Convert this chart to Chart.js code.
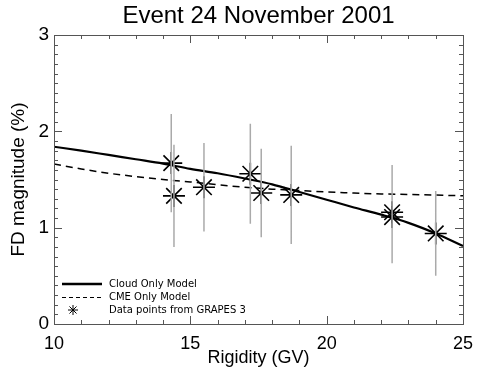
<!DOCTYPE html>
<html>
<head>
<meta charset="utf-8">
<script src="https://cdn.jsdelivr.net/npm/chart.js@4"></script>
<style>
  html, body { margin: 0; padding: 0; background: #fff; }
  #wrap { width: 477px; height: 375px; }
</style>
</head>
<body>
<div id="wrap"><canvas id="fdChart" width="477" height="375"></canvas></div>
<script>
// model curves, sampled every 1 GV
const modelRigidity = [10, 11, 12, 13, 14, 15, 16, 17, 18, 19, 20, 21, 22, 23, 24, 25];
const cloudOnly = [1.84, 1.80, 1.755, 1.71, 1.665, 1.61, 1.565, 1.51, 1.45, 1.37, 1.29, 1.21, 1.135, 1.05, 0.94, 0.81];
const cmeOnly = [1.66, 1.61, 1.565, 1.53, 1.50, 1.475, 1.445, 1.42, 1.40, 1.385, 1.37, 1.36, 1.35, 1.345, 1.338, 1.332];

// GRAPES-3 data points
const grapesRigidity = [14.3, 14.4, 15.5, 17.2, 17.6, 18.7, 22.4, 22.4, 24.0];
const grapesFD = [1.67, 1.33, 1.42, 1.56, 1.36, 1.34, 1.16, 1.11, 0.94];
const grapesErr = [0.51, 0.53, 0.46, 0.52, 0.46, 0.51, 0.49, 0.48, 0.44];

const xTicks = [10, 15, 20, 25];
const yTicks = [0, 1, 2, 3];

const legendLabels = ["Cloud Only Model", "CME Only Model", "Data points from GRAPES 3"];
const titleText = "Event 24 November 2001";

const axisColor = "#555";

function toXY(xs, ys) {
  return xs.map((x, i) => ({ x: x, y: ys[i] }));
}

// IDL style box with inward ticks on all four sides
const boxPlugin = {
  id: "box",
  afterDraw(chart) {
    const { ctx, chartArea: a, scales } = chart;
    const xs = scales.x, ys = scales.y;
    ctx.save();
    ctx.strokeStyle = axisColor;
    ctx.lineWidth = 1;
    ctx.strokeRect(a.left + 0.5, a.top + 0.5, a.right - a.left, a.bottom - a.top);
    ctx.beginPath();
    for (let v = xs.min; v <= xs.max; v += 1) {
      const px = Math.round(xs.getPixelForValue(v)) + 0.5;
      const len = xTicks.includes(v) ? 8 : 4;
      ctx.moveTo(px, a.bottom); ctx.lineTo(px, a.bottom - len);
      ctx.moveTo(px, a.top); ctx.lineTo(px, a.top + len);
    }
    for (let i = 0; i <= 30; i++) {
      const v = i / 10;
      const py = Math.round(ys.getPixelForValue(v)) + 0.5;
      const len = i % 10 === 0 ? 8 : 4;
      ctx.moveTo(a.left, py); ctx.lineTo(a.left + len, py);
      ctx.moveTo(a.right, py); ctx.lineTo(a.right - len, py);
    }
    ctx.stroke();

    // title, centred over the plot
    ctx.fillStyle = "#000";
    ctx.font = "24px 'Liberation Sans', Arial, sans-serif";
    ctx.textAlign = "center";
    ctx.textBaseline = "middle";
    ctx.fillText(titleText, (a.left + a.right) / 2, 16);
    ctx.restore();
  }
};

// vertical error bars through each GRAPES point
const errorBarPlugin = {
  id: "errorBars",
  afterDatasetsDraw(chart) {
    const { ctx, scales } = chart;
    ctx.save();
    ctx.strokeStyle = "#aaa";
    ctx.lineWidth = 1.5;
    ctx.beginPath();
    grapesRigidity.forEach((x, i) => {
      const px = scales.x.getPixelForValue(x);
      ctx.moveTo(px, scales.y.getPixelForValue(grapesFD[i] + grapesErr[i]));
      ctx.lineTo(px, scales.y.getPixelForValue(grapesFD[i] - grapesErr[i]));
    });
    ctx.stroke();
    ctx.restore();
  }
};

// legend in the lower left corner of the plot
const legendPlugin = {
  id: "cornerLegend",
  afterDraw(chart) {
    const { ctx, chartArea: a } = chart;
    const x0 = a.left + 8, x1 = a.left + 48, tx = a.left + 55;
    const rows = [a.bottom - 40, a.bottom - 26.5, a.bottom - 14];
    ctx.save();
    ctx.strokeStyle = "#000";
    ctx.lineWidth = 2.5;
    ctx.beginPath(); ctx.moveTo(x0, rows[0]); ctx.lineTo(x1, rows[0]); ctx.stroke();
    ctx.lineWidth = 1.2;
    ctx.setLineDash([4, 3]);
    ctx.beginPath(); ctx.moveTo(x0, rows[1]); ctx.lineTo(x1, rows[1]); ctx.stroke();
    ctx.setLineDash([]);
    // small asterisk
    const cx = (x0 + x1) / 2 - 9, cy = rows[2], r = 5;
    ctx.lineWidth = 1;
    ctx.beginPath();
    for (let k = 0; k < 4; k++) {
      const ang = k * Math.PI / 4;
      ctx.moveTo(cx - r * Math.cos(ang), cy - r * Math.sin(ang));
      ctx.lineTo(cx + r * Math.cos(ang), cy + r * Math.sin(ang));
    }
    ctx.stroke();
    ctx.fillStyle = "#000";
    ctx.font = "10px 'DejaVu Sans', sans-serif";
    ctx.textBaseline = "middle";
    legendLabels.forEach((t, i) => ctx.fillText(t, tx, rows[i]));
    ctx.restore();
  }
};

function renderChart() {
  const canvas = document.getElementById("fdChart");
  const ctx = canvas.getContext("2d");

  new Chart(ctx, {
    data: {
      datasets: [
        {
          type: "line",
          label: legendLabels[0],
          data: toXY(modelRigidity, cloudOnly),
          borderColor: "#000",
          borderWidth: 2.2,
          pointRadius: 0,
          cubicInterpolationMode: "monotone",
        },
        {
          type: "line",
          label: legendLabels[1],
          data: toXY(modelRigidity, cmeOnly),
          borderColor: "#000",
          borderWidth: 1.5,
          borderDash: [7, 5],
          pointRadius: 0,
          cubicInterpolationMode: "monotone",
        },
        {
          type: "scatter",
          label: legendLabels[2],
          data: toXY(grapesRigidity, grapesFD),
          pointStyle: "star",
          pointRadius: 11,
          borderColor: "#000",
          backgroundColor: "#000",
          borderWidth: 1.6,
        },
      ],
    },
    options: {
      responsive: false,
      animation: false,
      layout: { padding: { top: 35, right: 0, left: 0, bottom: 0 } },
      plugins: {
        legend: { display: false },
        tooltip: { enabled: false },
        title: { display: false },
      },
      scales: {
        x: {
          type: "linear",
          min: 10,
          max: 25,
          afterFit: (s) => { s.height = 51; s.paddingRight = 14; s.paddingLeft = 0; },
          afterBuildTicks: (s) => { s.ticks = xTicks.map((v) => ({ value: v })); },
          grid: { display: false, drawTicks: false },
          border: { display: false },
          ticks: {
            color: "#000",
            padding: 9,
            maxRotation: 0,
            font: { family: "'Liberation Sans', Arial, sans-serif", size: 18 },
          },
          title: {
            display: true,
            text: "Rigidity (GV)",
            color: "#000",
            padding: { top: 0, bottom: 6 },
            font: { family: "'Liberation Sans', Arial, sans-serif", size: 18 },
          },
        },
        y: {
          type: "linear",
          min: 0,
          max: 3,
          afterFit: (s) => { s.width = 54; s.paddingTop = 0; s.paddingBottom = 0; },
          afterBuildTicks: (s) => { s.ticks = yTicks.map((v) => ({ value: v })); },
          grid: { display: false, drawTicks: false },
          border: { display: false },
          ticks: {
            color: "#000",
            padding: 5,
            font: { family: "'Liberation Sans', Arial, sans-serif", size: 19 },
          },
          title: {
            display: true,
            text: "FD magnitude (%)",
            color: "#000",
            padding: { top: 7, bottom: 0 },
            font: { family: "'Liberation Sans', Arial, sans-serif", size: 19 },
          },
        },
      },
    },
    plugins: [errorBarPlugin, boxPlugin, legendPlugin],
  });
}

window.addEventListener("load", renderChart);
</script>
</body>
</html>
